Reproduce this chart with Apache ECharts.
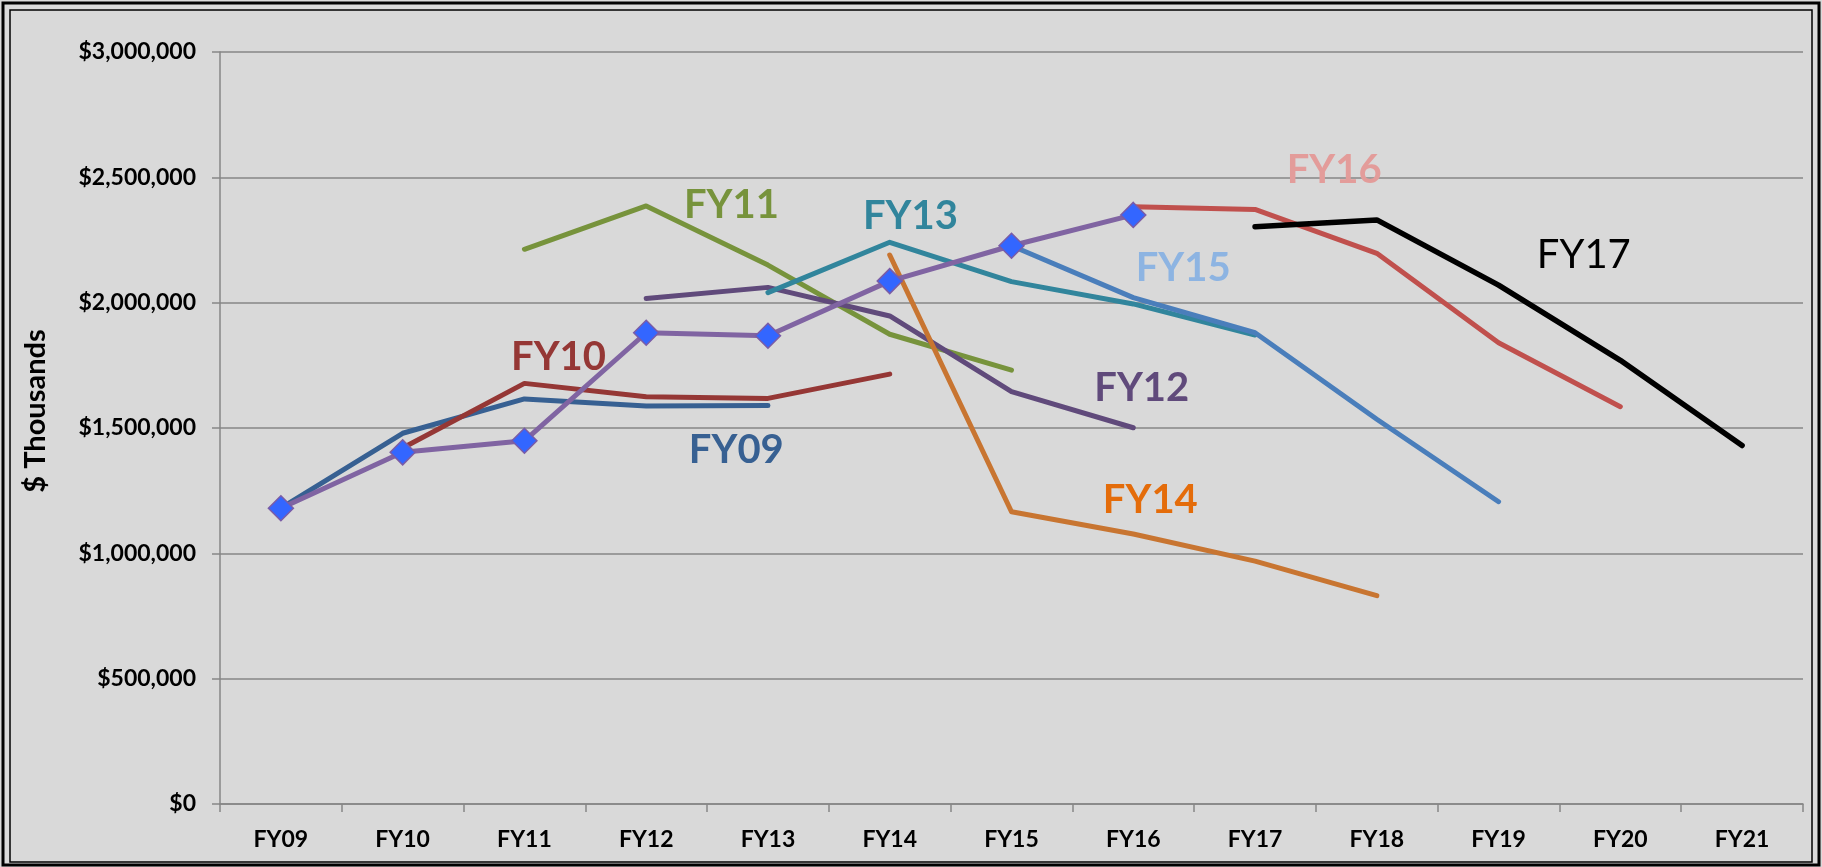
<!DOCTYPE html>
<html>
<head>
	<meta charset="UTF-8">
	<title>FY budget projections</title>
	<style>
		html, body { margin: 0; padding: 0; background: #d9d9d9; }
		#myChart { width: 1822px; height: 867px; }
	</style>
</head>
<body>
	<div id="myChart"></div>
	<script src="https://cdn.jsdelivr.net/npm/echarts@6/dist/echarts.min.js"></script>
	<script>
		// categories on the x axis
		var categories = ['FY09', 'FY10', 'FY11', 'FY12', 'FY13', 'FY14', 'FY15', 'FY16', 'FY17', 'FY18', 'FY19', 'FY20', 'FY21'];
		var yTicks = [0, 500000, 1000000, 1500000, 2000000, 2500000, 3000000];

		// each projection starts at its own fiscal year (index into categories)
		var fy09 = [1180000, 1479000, 1616000, 1588000, 1590000];
		var fy10 = [1420000, 1678000, 1625000, 1618000, 1715000];
		var fy11 = [2213000, 2386000, 2150000, 1874000, 1731000];
		var fy12 = [2017000, 2061000, 1947000, 1645000, 1501000];
		var fy13 = [2040000, 2241000, 2084000, 1995000, 1871000];
		var fy14 = [2190000, 1166000, 1077000, 969000, 831000];
		var fy15 = [2227000, 2020000, 1880000, 1535000, 1206000];
		var fy16 = [2383000, 2372000, 2197000, 1840000, 1585000];
		var fy17 = [2303000, 2330000, 2070000, 1770000, 1430000];
		// actuals, FY09..FY16
		var actual = [1180000, 1403000, 1449000, 1880000, 1868000, 2086000, 2227000, 2350000];

		// in-chart series captions, anchored in data space (fractional category index, value)
		var labelNames = ['FY09', 'FY10', 'FY11', 'FY12', 'FY13', 'FY14', 'FY15', 'FY16', 'FY17'];
		var labelCat = [3.74, 2.28, 3.70, 7.07, 5.17, 7.14, 7.41, 8.65, 10.70];
		var labelVal = [1412000, 1783000, 2390000, 1660000, 2346000, 1213000, 2138000, 2529000, 2190000];

		var FONT = 'Lato, "Open Sans", sans-serif';

		function pad(start, vals) {
			var out = [];
			for (var i = 0; i < categories.length; i++) {
				var k = i - start;
				out.push(k >= 0 && k < vals.length ? vals[k] : null);
			}
			return out;
		}

		var lines = [
			{ name: 'FY09', start: 0, data: fy09, color: '#376092', label: '#376092' },
			{ name: 'FY10', start: 1, data: fy10, color: '#953735', label: '#953735' },
			{ name: 'FY11', start: 2, data: fy11, color: '#77933c', label: '#77933c' },
			{ name: 'FY12', start: 3, data: fy12, color: '#604a7b', label: '#604a7b' },
			{ name: 'FY13', start: 4, data: fy13, color: '#31859c', label: '#31859c' },
			{ name: 'FY14', start: 5, data: fy14, color: '#c87531', label: '#e46c0a' },
			{ name: 'FY15', start: 6, data: fy15, color: '#4a7ebb', label: '#8db4e2' },
			{ name: 'FY16', start: 7, data: fy16, color: '#c0504d', label: '#e39c9a' },
			{ name: 'FY17', start: 8, data: fy17, color: '#000000', label: '#000000' }
		];

		var series = [];
		lines.forEach(function(l) {
			series.push({
				name: l.name,
				type: 'line',
				data: pad(l.start, l.data),
				showSymbol: false,
				symbol: 'none',
				lineStyle: { color: l.color, width: l.name == 'FY17' ? 5.5 : 5, cap: 'round', join: 'round' },
				silent: true,
				z: 2
			});
		});
		series.push({
			name: 'Actual',
			type: 'line',
			data: pad(0, actual),
			symbol: 'diamond',
			symbolSize: 25,
			itemStyle: { color: '#3366ff', borderColor: '#7a5ca6', borderWidth: 1.5 },
			lineStyle: { color: '#8064a2', width: 5 },
			silent: true,
			z: 5
		});

		var myChart = echarts.init(document.getElementById('myChart'));
		myChart.setOption({
			backgroundColor: '#d9d9d9',
			animation: false,
			grid: { left: 220, right: 19, top: 52, bottom: 63 },
			xAxis: {
				type: 'category',
				data: categories,
				boundaryGap: true,
				axisLine: { lineStyle: { color: '#868686', width: 1.5 } },
				axisTick: { show: true, length: 8, lineStyle: { color: '#868686', width: 1.5 } },
				axisLabel: { color: '#000', fontFamily: FONT, fontWeight: 'bold', fontSize: 23, margin: 24 },
				splitLine: { show: false }
			},
			yAxis: {
				type: 'value',
				min: yTicks[0],
				max: yTicks[yTicks.length - 1],
				interval: yTicks[1] - yTicks[0],
				name: '$ Thousands',
				nameLocation: 'middle',
				nameRotate: 90,
				nameGap: 170,
				nameTextStyle: { color: '#000', fontFamily: FONT, fontWeight: 'bold', fontSize: 29, padding: [0, 0, 0, 34] },
				axisLine: { show: true, lineStyle: { color: '#868686', width: 1.5 } },
				axisTick: { show: true, length: 8, lineStyle: { color: '#868686', width: 1.5 } },
				axisLabel: {
					color: '#000', fontFamily: FONT, fontWeight: 'bold', fontSize: 23, margin: 24,
					formatter: function(v) { return '$' + v.toLocaleString('en-US'); }
				},
				splitLine: { show: true, lineStyle: { color: '#868686', width: 1.5 } }
			},
			series: series
		});

		// category axis snaps to whole categories, so interpolate between neighbours
		function toPixel(cat, val) {
			var i0 = Math.floor(cat);
			var a = myChart.convertToPixel({ gridIndex: 0 }, [i0, val]);
			var b = myChart.convertToPixel({ gridIndex: 0 }, [i0 + 1, val]);
			return [a[0] + (cat - i0) * (b[0] - a[0]), a[1]];
		}

		// captions and double frame
		var graphics = [
			{ type: 'rect', shape: { x: 3, y: 3, width: 1816, height: 862 }, style: { fill: null, stroke: '#000', lineWidth: 3 }, silent: true },
			{ type: 'rect', shape: { x: 10, y: 10, width: 1802, height: 852 }, style: { fill: null, stroke: '#000', lineWidth: 1.5 }, silent: true }
		];
		for (var i = 0; i < labelNames.length; i++) {
			var p = toPixel(labelCat[i], labelVal[i]);
			graphics.push({
				type: 'text',
				x: p[0],
				y: p[1],
				z: 10,
				silent: true,
				style: {
					text: labelNames[i],
					fill: lines[i].label,
					font: (labelNames[i] == 'FY17' ? 'normal ' : 'bold ') + '40px ' + FONT,
					align: 'center',
					verticalAlign: 'middle'
				}
			});
		}
		myChart.setOption({ graphic: graphics });
	</script>
</body>
</html>
